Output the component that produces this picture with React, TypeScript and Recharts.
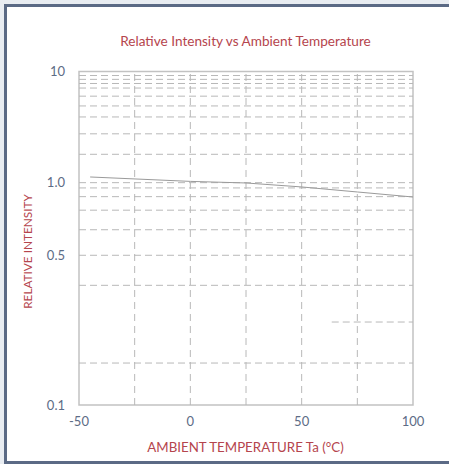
import React from 'react';
import {
  LineChart,
  Line,
  XAxis,
  YAxis,
  ReferenceLine,
  ReferenceArea,
} from 'recharts';

// readings
const TEMPS = [-45, 0, 25, 50, 75, 100];
const INTENSITY = [1.125, 1.027, 0.997, 0.96, 0.915, 0.872];

const X_TICKS = [-50, 0, 50, 100];
const X_GRID = [-25, 0, 25, 50, 75];
const Y_TICKS = [0.1, 0.5, 1, 10];
const Y_TICK_LABELS = ['0.1', '0.5', '1.0', '10'];
const Y_GRID = [0.157, 0.362, 0.5, 0.638, 0.769, 0.875, 0.951, 1, 1.8, 2.75, 3.9, 4.9, 6.0, 7.1, 7.8, 8.5, 9.2];
// short line that only runs on the right part of the plot
const Y_GRID_PARTIAL = { value: 0.244, from: 63.5, to: 100 };

// the printed axis is not a clean log scale: each decade piece has its own stretch
const Y_SCALE: [number, number][] = [
  [0.1, 0],
  [0.5, 1.495],
  [1, 2.22],
  [10, 3.33],
];

const toAxis = (v: number) => {
  for (let i = 1; i < Y_SCALE.length; i++) {
    const [v0, p0] = Y_SCALE[i - 1];
    const [v1, p1] = Y_SCALE[i];
    if (v <= v1 || i === Y_SCALE.length - 1) {
      const t = (Math.log10(v) - Math.log10(v0)) / (Math.log10(v1) - Math.log10(v0));
      return p0 + t * (p1 - p0);
    }
  }
  return 0;
};

const Y_TOP = toAxis(10);

const GRID = '#b8b8b8';
const TICK = '#5d6c86';
const RED = '#b5454d';
const FONT = 'Lato, "Open Sans", sans-serif';

const data = TEMPS.map((t, i) => ({ temp: t, intensity: INTENSITY[i] }));

export default function App() {
  return (
    <div
      style={{
        position: 'fixed',
        left: 0,
        top: 0,
        width: 449,
        height: 464,
        background: '#e9edf2',
        overflow: 'hidden',
        fontFamily: FONT,
      }}
    >
      <div
        style={{
          position: 'absolute',
          left: 4,
          top: 4,
          width: 460,
          height: 454,
          background: '#fff',
          borderLeft: '3px solid #5b6a85',
          borderTop: '3px solid #5b6a85',
          borderBottom: '3px solid #5b6a85',
        }}
      />
      <div
        style={{
          position: 'absolute',
          left: 0,
          top: 33,
          width: 491,
          textAlign: 'center',
          color: RED,
          fontSize: 13.6,
        }}
      >
        Relative Intensity vs Ambient Temperature
      </div>
      <div
        style={{
          position: 'absolute',
          left: 0,
          top: 439,
          width: 491,
          textAlign: 'center',
          color: RED,
          fontSize: 13.3,
        }}
      >
        AMBIENT TEMPERATURE Ta (°C)
      </div>
      <div
        style={{
          position: 'absolute',
          left: 27 - 100,
          top: 253 - 9,
          width: 200,
          textAlign: 'center',
          color: RED,
          fontSize: 11.8,
          transform: 'rotate(-90deg)',
        }}
      >
        RELATIVE INTENSITY
      </div>
      <div style={{ position: 'absolute', left: 0, top: 0 }}>
        <LineChart
          width={449}
          height={464}
          data={data}
          margin={{ top: 71.5, right: 36, bottom: 29, left: 19 }}
        >
          <XAxis
            dataKey="temp"
            type="number"
            domain={[-50, 100]}
            ticks={X_TICKS}
            axisLine={false}
            tickLine={false}
            tickSize={6}
            tickMargin={6}
            height={30}
            tick={{ fill: TICK, fontSize: 13, fontFamily: FONT }}
          />
          <YAxis
            type="number"
            domain={[0, Y_TOP]}
            ticks={Y_TICKS.map(toAxis)}
            tickFormatter={(v: number) => {
              const i = Y_TICKS.findIndex(t => Math.abs(toAxis(t) - v) < 1e-6);
              return i >= 0 ? Y_TICK_LABELS[i] : '';
            }}
            axisLine={false}
            tickLine={false}
            tickSize={6}
            tickMargin={8}
            width={60}
            tick={{ fill: TICK, fontSize: 13, fontFamily: FONT }}
            allowDataOverflow
          />
          {Y_GRID.map(v => (
            <ReferenceLine
              key={`h${v}`}
              y={toAxis(v)}
              stroke={GRID}
              strokeDasharray="7 4"
              strokeWidth={1}
            />
          ))}
          <ReferenceLine
            segment={[
              { x: Y_GRID_PARTIAL.from, y: toAxis(Y_GRID_PARTIAL.value) },
              { x: Y_GRID_PARTIAL.to, y: toAxis(Y_GRID_PARTIAL.value) },
            ]}
            stroke={GRID}
            strokeDasharray="7 4"
          />
          {X_GRID.map(v => (
            <ReferenceLine key={`v${v}`} x={v} stroke={GRID} strokeDasharray="7 5" />
          ))}
          <ReferenceArea
            x1={-50}
            x2={100}
            y1={0}
            y2={Y_TOP}
            fill="none"
            stroke="#c2c2c2"
            strokeWidth={1.5}
          />
          <Line
            type="linear"
            dataKey={(d: { intensity: number }) => toAxis(d.intensity)}
            stroke="#9a9a9a"
            strokeWidth={1}
            dot={false}
            isAnimationActive={false}
          />
        </LineChart>
      </div>
    </div>
  );
}
